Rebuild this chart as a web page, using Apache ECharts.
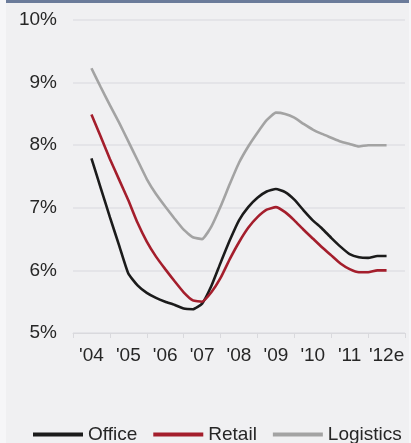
<!DOCTYPE html>
<html>
<head>
<meta charset="utf-8">
<script src="https://cdn.jsdelivr.net/npm/echarts@6/dist/echarts.min.js"></script>
<style>
  html, body { margin: 0; padding: 0; background: #f6f6f8; }
  #chart { width: 411px; height: 443px; }
</style>
</head>
<body>
<div id="chart"></div>
<script>
// Prime property yields, quarterly readings 2004 - 2012e
const yearLabels = ["'04", "'05", "'06", "'07", "'08", "'09", "'10", "'11", "'12e"];
const yTicks = [5, 6, 7, 8, 9, 10];

const office = [
  7.79, 7.32, 6.85, 6.40, 5.95, 5.76, 5.64, 5.56,
  5.50, 5.45, 5.39, 5.38, 5.47, 5.75, 6.12, 6.48,
  6.80, 7.01, 7.16, 7.26, 7.30, 7.25, 7.13, 6.96,
  6.80, 6.67, 6.52, 6.38, 6.26, 6.21, 6.20, 6.23,
  6.23
];
const retail = [
  8.49, 8.14, 7.78, 7.45, 7.12, 6.76, 6.46, 6.22,
  6.02, 5.83, 5.65, 5.52, 5.50, 5.65, 5.88, 6.18,
  6.45, 6.68, 6.85, 6.97, 7.01, 6.93, 6.80, 6.65,
  6.51, 6.37, 6.24, 6.11, 6.02, 5.97, 5.97, 6.00,
  6.00
];
const logistics = [
  9.23, 8.93, 8.64, 8.36, 8.06, 7.76, 7.46, 7.22,
  7.02, 6.83, 6.65, 6.53, 6.50, 6.70, 7.02, 7.38,
  7.72, 7.98, 8.20, 8.40, 8.52, 8.50, 8.44, 8.34,
  8.25, 8.18, 8.12, 8.06, 8.02, 7.98, 8.00, 8.00,
  8.00
];

// quarter i sits at year band centre 0.5 + i/4 on the hidden value axis
const toPoints = arr => arr.map((v, i) => [0.5 + i / 4, v]);

const FONT = '"Liberation Sans", Arial, sans-serif';
const TEXT = '#262626';

const chart = echarts.init(document.getElementById('chart'), null, { renderer: 'canvas' });

chart.setOption({
  animation: false,
  backgroundColor: 'transparent',
  textStyle: { fontFamily: FONT },
  graphic: [
    { type: 'rect', z: -10, shape: { x: 6, y: 0, width: 403, height: 443 }, style: { fill: '#f0f0f2' } },
    { type: 'rect', z: -9, shape: { x: 6, y: 0, width: 403, height: 3 }, style: { fill: '#6b7b9a' } }
  ],
  grid: { left: 73, right: 6, top: 20, bottom: 110 },
  legend: {
    left: 28,
    top: 420,
    itemWidth: 50,
    itemHeight: 4,
    itemGap: 16,
    icon: 'rect',
    textStyle: { fontFamily: FONT, fontSize: 19, color: TEXT },
    data: ['Office', 'Retail', 'Logistics']
  },
  xAxis: [
    {
      type: 'category',
      data: yearLabels,
      boundaryGap: true,
      axisLine: { show: true, lineStyle: { color: '#d9d9dd', width: 1 } },
      axisTick: { show: true, length: 5, lineStyle: { color: '#d9d9dd' } },
      axisLabel: { color: TEXT, fontSize: 19, fontFamily: FONT, margin: 13, interval: 0, hideOverlap: false },
      splitLine: { show: false }
    },
    {
      type: 'value',
      min: 0,
      max: 9,
      show: false
    }
  ],
  yAxis: {
    type: 'value',
    min: yTicks[0],
    max: yTicks[yTicks.length - 1],
    interval: 1,
    axisLine: { show: false },
    axisTick: { show: false },
    axisLabel: { color: TEXT, fontSize: 19, fontFamily: FONT, margin: 16, formatter: '{value}%' },
    splitLine: { show: true, lineStyle: { color: '#e1e1e5', width: 1.5 } }
  },
  series: [
    {
      name: 'Office', type: 'line', xAxisIndex: 1, data: toPoints(office),
      showSymbol: false, smooth: 0.15,
      lineStyle: { color: '#1b1b1b', width: 2.6 }, itemStyle: { color: '#1b1b1b' }
    },
    {
      name: 'Retail', type: 'line', xAxisIndex: 1, data: toPoints(retail),
      showSymbol: false, smooth: 0.15,
      lineStyle: { color: '#a41e2c', width: 2.6 }, itemStyle: { color: '#a41e2c' }
    },
    {
      name: 'Logistics', type: 'line', xAxisIndex: 1, data: toPoints(logistics),
      showSymbol: false, smooth: 0.15,
      lineStyle: { color: '#a3a3a3', width: 2.6 }, itemStyle: { color: '#a3a3a3' }
    }
  ]
});
</script>
</body>
</html>
